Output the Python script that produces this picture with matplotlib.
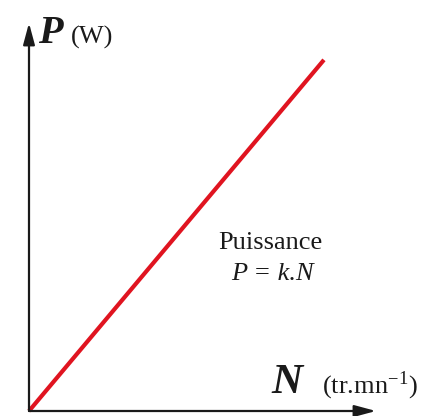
import matplotlib
matplotlib.use("Agg")
import matplotlib.pyplot as plt

# Power grows linearly with rotation speed: P = k.N
vitesse_N = [0, 85]
puissance_P = [0, 90.5]

plt.rcParams['font.family'] = ['Liberation Serif', 'DejaVu Serif']
plt.rcParams['mathtext.fontset'] = 'stix'

fig = plt.figure(figsize=(4.28, 4.16), dpi=100)
W, H = 428, 416
# axes box in pixels: origin (29, 411), x tip 376, y tip 23
ax = fig.add_axes([29 / W, (H - 411) / H, (376 - 29) / W, (411 - 23) / H])
ax.set_xlim(0, 100)
ax.set_ylim(0, 100)
ax.axis('off')

# Red characteristic line
ax.plot(vitesse_N, puissance_P, color='#e01420', lw=3.0, solid_capstyle='butt', clip_on=False)

# Axes drawn as arrows
arrow = dict(arrowstyle='-|>,head_length=1.3,head_width=0.35', color='#1a1a1a', lw=1.6, shrinkA=0, shrinkB=0)
ax.annotate('', xy=(1, 0), xytext=(0, 0), xycoords='axes fraction', arrowprops=arrow)
ax.annotate('', xy=(0, 1), xytext=(0, 0), xycoords='axes fraction', arrowprops=arrow)

# Axis labels
fig.text(38 / W, 1 - 43 / H, 'P', fontsize=29, fontweight='bold', fontstyle='italic', color='#1a1a1a')
fig.text(71 / W, 1 - 44 / H, '(W)', fontsize=19, color='#1a1a1a')
fig.text(271 / W, 1 - 393 / H, 'N', fontsize=31, fontweight='bold', fontstyle='italic', color='#1a1a1a')
fig.text(322 / W, 1 - 393 / H, r'(tr.mn$^{\mathregular{-1}}$)', fontsize=19, color='#1a1a1a')

# Curve annotation
fig.text(270 / W, 1 - 249 / H, 'Puissance', fontsize=19, ha='center', color='#1a1a1a')
fig.text(272 / W, 1 - 280 / H, 'P = k.N', fontsize=19, fontstyle='italic', ha='center', color='#1a1a1a')

fig.savefig('out.png', dpi=100)
